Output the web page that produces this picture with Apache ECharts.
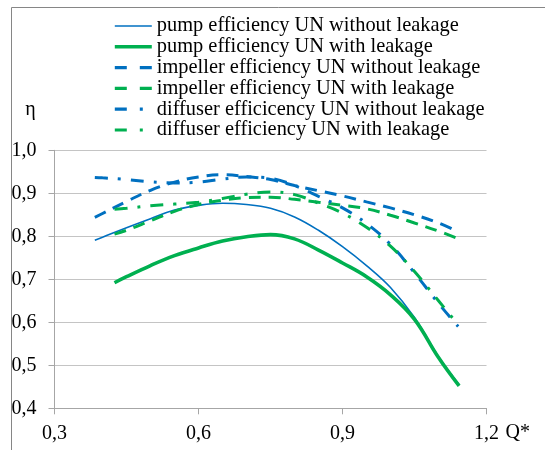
<!DOCTYPE html>
<html>
<head>
<meta charset="utf-8">
<script src="https://cdn.jsdelivr.net/npm/echarts@6/dist/echarts.min.js"></script>
<style>
html,body{margin:0;padding:0;background:#fff;}
#chart{width:545px;height:450px;}
</style>
</head>
<body>
<div id="chart"></div>
<script>
// Series names
const seriesNames = [
  'pump efficiency UN without leakage',
  'pump efficiency UN with leakage',
  'impeller efficiency UN without leakage',
  'impeller efficiency UN with leakage',
  'diffuser efficicency UN without leakage',
  'diffuser efficiency UN with leakage'
];

// pump efficiency UN without leakage
const qPumpNoLeak   = [0.384, 0.40, 0.45, 0.50, 0.55, 0.60, 0.65, 0.70, 0.75, 0.80, 0.85, 0.90, 0.95, 1.00, 1.05, 1.10, 1.143];
const etaPumpNoLeak = [0.791, 0.798, 0.820, 0.841, 0.861, 0.872, 0.877, 0.874, 0.865, 0.845, 0.814, 0.776, 0.732, 0.681, 0.611, 0.520, 0.455];

// pump efficiency UN with leakage
const qPumpLeak   = [0.425, 0.45, 0.50, 0.55, 0.60, 0.65, 0.70, 0.75, 0.80, 0.85, 0.90, 0.95, 1.00, 1.05, 1.10, 1.143];
const etaPumpLeak = [0.692, 0.706, 0.732, 0.755, 0.773, 0.789, 0.799, 0.804, 0.794, 0.768, 0.738, 0.706, 0.664, 0.607, 0.518, 0.452];

// impeller efficiency UN without leakage
const qImpNoLeak   = [0.384, 0.40, 0.45, 0.50, 0.55, 0.60, 0.65, 0.70, 0.75, 0.80, 0.85, 0.90, 0.95, 1.00, 1.05, 1.10, 1.138];
const etaImpNoLeak = [0.844, 0.853, 0.881, 0.907, 0.926, 0.938, 0.943, 0.939, 0.932, 0.918, 0.906, 0.894, 0.880, 0.866, 0.850, 0.831, 0.812];

// impeller efficiency UN with leakage
const qImpLeak   = [0.425, 0.45, 0.50, 0.55, 0.60, 0.65, 0.70, 0.75, 0.80, 0.85, 0.90, 0.95, 1.00, 1.05, 1.10, 1.140];
const etaImpLeak = [0.805, 0.814, 0.836, 0.858, 0.874, 0.884, 0.890, 0.891, 0.886, 0.879, 0.872, 0.864, 0.849, 0.831, 0.812, 0.795];

// diffuser efficicency UN without leakage
const qDifNoLeak   = [0.384, 0.40, 0.45, 0.50, 0.55, 0.60, 0.65, 0.70, 0.75, 0.80, 0.85, 0.90, 0.95, 1.00, 1.05, 1.10, 1.141];
const etaDifNoLeak = [0.937, 0.936, 0.932, 0.927, 0.924, 0.926, 0.933, 0.938, 0.935, 0.918, 0.893, 0.866, 0.830, 0.781, 0.715, 0.644, 0.590];

// diffuser efficiency UN with leakage
const qDifLeak   = [0.425, 0.45, 0.50, 0.55, 0.60, 0.65, 0.70, 0.75, 0.80, 0.85, 0.90, 0.95, 1.00, 1.05, 1.10, 1.141];
const etaDifLeak = [0.863, 0.865, 0.871, 0.875, 0.879, 0.888, 0.898, 0.903, 0.897, 0.877, 0.854, 0.821, 0.777, 0.718, 0.650, 0.594];

// axis ticks
const xTicks = [0.3, 0.6, 0.9, 1.2];
const yTicks = [0.4, 0.5, 0.6, 0.7, 0.8, 0.9, 1.0];

const BLUE = '#0070C0';
const GREEN = '#00B050';
const FONT = '"Liberation Serif", "Times New Roman", serif';

function pairs(xs, ys) { return xs.map((x, i) => [x, ys[i]]); }
const fmt = v => v.toFixed(1).replace('.', ',');

const styles = [
  { color: BLUE,  width: 1.6, type: 'solid',          legendType: 'solid',           legendWidth: 1.6 },
  { color: GREEN, width: 3.6, type: 'solid',          legendType: 'solid',           legendWidth: 3.6 },
  { color: BLUE,  width: 3,   type: [12, 8],          legendType: [12, 13],          legendWidth: 3.2 },
  { color: GREEN, width: 3,   type: [12, 8],          legendType: [12, 13],          legendWidth: 3.2 },
  { color: BLUE,  width: 3,   type: [13, 10, 3, 10],  legendType: [12, 13, 3, 20],   legendWidth: 3.2 },
  { color: GREEN, width: 3,   type: [13, 10, 3, 10],  legendType: [12, 13, 3, 20],   legendWidth: 3.2 }
];
const dataSets = [
  pairs(qPumpNoLeak, etaPumpNoLeak),
  pairs(qPumpLeak, etaPumpLeak),
  pairs(qImpNoLeak, etaImpNoLeak),
  pairs(qImpLeak, etaImpLeak),
  pairs(qDifNoLeak, etaDifNoLeak),
  pairs(qDifLeak, etaDifLeak)
];

const chart = echarts.init(document.getElementById('chart'), null, { renderer: 'canvas' });
chart.setOption({
  animation: false,
  backgroundColor: '#fff',
  textStyle: { fontFamily: FONT },
  graphic: [
    { type: 'rect', left: 9, top: 5, z: -10,
      shape: { width: 600, height: 500 },
      style: { fill: 'none', stroke: '#868686', lineWidth: 1 } }
  ],
  legend: {
    orient: 'vertical',
    left: 113,
    top: 16,
    padding: 0,
    itemWidth: 37,
    itemHeight: 14,
    itemGap: 0.8,
    itemStyle: { opacity: 0 },
    data: seriesNames.map((name, i) => ({
      name: name,
      itemStyle: { opacity: 0 },
      lineStyle: { width: styles[i].legendWidth, type: styles[i].legendType, color: styles[i].color, cap: 'butt' }
    })),
    textStyle: { fontFamily: FONT, fontSize: 20.4, color: '#000', lineHeight: 20, padding: [0, 0, 0, 0] }
  },
  grid: { left: 54.5, right: 58.5, top: 150.3, bottom: 41.7, containLabel: false, outerBoundsMode: 'none' },
  xAxis: {
    type: 'value',
    min: xTicks[0], max: xTicks[xTicks.length - 1], interval: 0.3,
    name: 'Q*',
    nameLocation: 'end',
    nameGap: 19,
    nameTextStyle: { fontFamily: FONT, fontSize: 20, color: '#000', verticalAlign: 'top', lineHeight: 48 },
    axisLine: { show: true, lineStyle: { color: '#a6a6a6', width: 1 } },
    axisTick: { show: true, length: 6, lineStyle: { color: '#a6a6a6' } },
    splitLine: { show: false },
    axisLabel: { fontFamily: FONT, fontSize: 20, color: '#000', margin: 15, formatter: fmt }
  },
  yAxis: {
    type: 'value',
    min: yTicks[0], max: yTicks[yTicks.length - 1], interval: 0.1,
    name: 'η',
    nameLocation: 'end',
    nameGap: 31,
    nameTextStyle: { fontFamily: FONT, fontSize: 20, color: '#000', padding: [0, 48, 0, 0] },
    axisLine: { show: true, lineStyle: { color: '#a6a6a6', width: 1 } },
    axisTick: { show: true, length: 6, lineStyle: { color: '#a6a6a6' } },
    splitLine: { show: true, lineStyle: { color: '#c4c4c4', width: 1.2 } },
    axisLabel: { fontFamily: FONT, fontSize: 20, color: '#000', margin: 18, formatter: fmt }
  },
  series: seriesNames.map((name, i) => ({
    name: name,
    type: 'line',
    data: dataSets[i],
    smooth: 0.4,
    symbol: 'none',
    lineStyle: { color: styles[i].color, width: styles[i].width, type: styles[i].type, cap: 'butt' },
    itemStyle: { color: styles[i].color },
    z: 2 + i
  }))
});
</script>
</body>
</html>
